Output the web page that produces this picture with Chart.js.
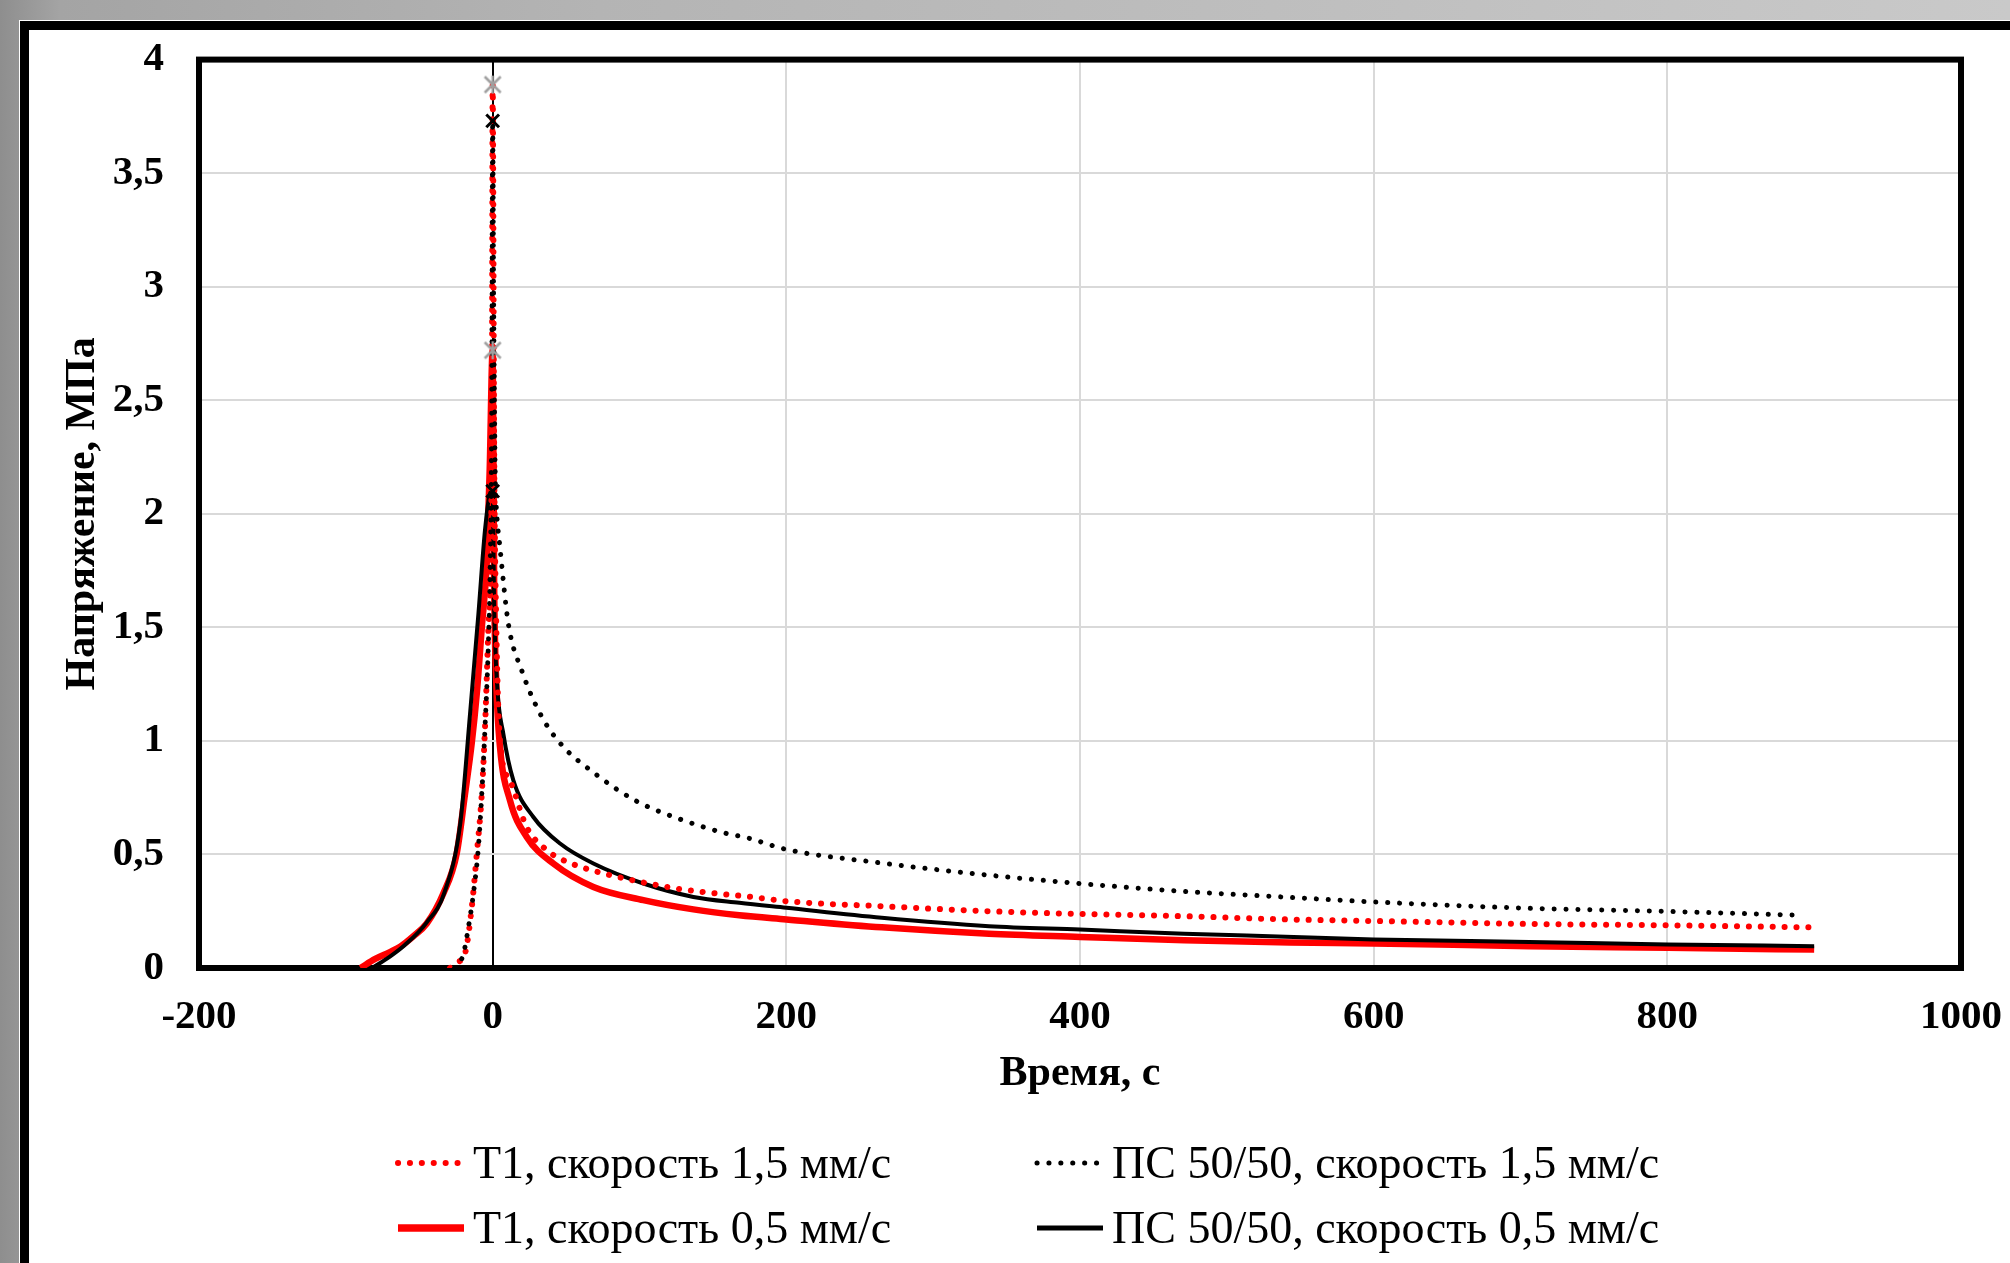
<!DOCTYPE html>
<html lang="ru">
<head>
    <meta charset="UTF-8">
    <title>Напряжение, МПа</title>
    <script src="https://cdn.jsdelivr.net/npm/chart.js"></script>
    <style>
        html, body { margin: 0; padding: 0; }
        body {
            width: 2010px; height: 1263px; overflow: hidden; position: relative;
            background: linear-gradient(to right, #8e8e8e 0px, #a4a4a4 60px, #b4b4b4 600px, #c9c9c9 2010px);
        }
        .frame {
            position: absolute; left: 20px; top: 21px; width: 2040px; height: 1300px;
            background: #fff; border: 9px solid #000;
            box-shadow: -1px -1px 0 #fff;
        }
        #chart { position: absolute; left: 0; top: 0; }
    </style>
</head>
<body>
    <div class="frame"></div>
    <canvas id="chart" width="2010" height="1263"></canvas>

    <script>
        // time, s / stress, MPa
        const t1FastTime   = [-29, -24, -18.8, -14.2, -10.8, -7.4, -5.2, -2.9, -1.3, -0.5, 0, 1, 2.5, 5, 11.8, 23.2, 36.8, 43.6, 60, 80, 100, 125, 150, 176, 200, 265, 338, 400, 471, 541, 600, 706, 800, 897];
        const t1FastStress = [0, 0.025, 0.064, 0.27, 0.504, 0.768, 1.06, 1.5, 1.79, 2.5, 3.89, 2.3, 1.5, 1.0, 0.826, 0.62, 0.519, 0.489, 0.445, 0.409, 0.38, 0.35, 0.33, 0.313, 0.294, 0.272, 0.25, 0.238, 0.228, 0.214, 0.207, 0.194, 0.188, 0.179];

        const t1SlowTime   = [-90, -80, -70, -63, -54, -44.9, -33.6, -24.5, -18.8, -14.2, -10.8, -7.4, -4, -2, 0, 1, 2.5, 5, 11.8, 23.2, 41.3, 68.6, 102.6, 136.7, 168, 200, 265, 338, 400, 471, 543, 600, 706, 800, 900];
        const t1SlowStress = [0, 0.04, 0.07, 0.094, 0.14, 0.196, 0.328, 0.504, 0.768, 0.993, 1.21, 1.5, 1.79, 2.2, 2.72, 1.7, 1.25, 0.973, 0.738, 0.577, 0.46, 0.357, 0.299, 0.258, 0.232, 0.214, 0.179, 0.151, 0.137, 0.122, 0.112, 0.108, 0.096, 0.089, 0.081];

        const psFastTime   = [-26, -20, -16.5, -13.1, -9.7, -7.4, -5.2, -2.9, -1.8, -0.6, 0, 0.6, 1.2, 1.8, 2.8, 5, 10.7, 19.8, 32.3, 45.9, 69.7, 97, 126.5, 159.4, 173, 200, 260, 333, 400, 469, 540, 600, 706, 800, 892];
        const psFastStress = [0, 0.06, 0.18, 0.328, 0.533, 0.768, 1.06, 1.43, 1.72, 2.5, 3.73, 3.0, 2.5, 2.15, 2.0, 1.85, 1.515, 1.31, 1.12, 0.99, 0.856, 0.738, 0.658, 0.592, 0.574, 0.522, 0.466, 0.412, 0.372, 0.338, 0.312, 0.291, 0.263, 0.249, 0.232];

        const psSlowTime   = [-82, -70, -60, -45, -33, -22, -15.4, -9.7, -5.2, -1.8, 0, 1, 3, 7.3, 14.1, 27.7, 45.9, 68.6, 102.6, 136.7, 168, 200, 265, 338, 400, 471, 540, 600, 706, 800, 900];
        const psSlowStress = [0, 0.05, 0.1, 0.2, 0.33, 0.64, 1.12, 1.56, 1.93, 2.09, 2.1, 1.6, 1.25, 1.03, 0.826, 0.665, 0.548, 0.46, 0.372, 0.313, 0.287, 0.265, 0.221, 0.184, 0.169, 0.151, 0.138, 0.126, 0.115, 0.104, 0.096];

        // peak markers at t = 0
        const peakTime     = [0, 0];
        const grayPeaks    = [3.89, 2.72];
        const blackPeaks   = [3.73, 2.1];

        const seriesLabels = [
            'T1, скорость 1,5 мм/с',
            'ПС 50/50, скорость 1,5 мм/с',
            'T1, скорость 0,5 мм/с',
            'ПС 50/50, скорость 0,5 мм/с'
        ];

        const xMin = -200, xMax = 1000, xStep = 200;
        const yMin = 0, yMax = 4, yStep = 0.5;

        const serif = '"Liberation Serif", "Times New Roman", serif';
        const DOT = [0.1, 11.8];

        function toPoints(xs, ys) {
            return xs.map((x, i) => ({ x: x, y: ys[i] }));
        }

        // gray asterisk marker like Excel's "*"
        function asteriskMarker(color, size) {
            const c = document.createElement('canvas');
            c.width = size; c.height = size;
            const g = c.getContext('2d');
            const m = size / 2, r = size / 2 - 2;
            g.strokeStyle = color; g.lineWidth = 2.5; g.lineCap = 'butt';
            g.beginPath();
            g.moveTo(m - r, m - r); g.lineTo(m + r, m + r);
            g.moveTo(m + r, m - r); g.lineTo(m - r, m + r);
            g.moveTo(m, m - r - 1); g.lineTo(m, m + r + 1);
            g.stroke();
            return c;
        }

        const plotFrame = {
            id: 'plotFrame',
            beforeDatasetsDraw(chart) {
                const a = chart.chartArea, ctx = chart.ctx;
                ctx.save();
                ctx.strokeStyle = '#000';
                ctx.lineWidth = 6;
                ctx.strokeRect(a.left, a.top, a.right - a.left, a.bottom - a.top);
                ctx.restore();
            }
        };

        // two-column legend, like the Excel one
        const legendGrid = {
            id: 'legendGrid',
            afterDraw(chart) {
                const ctx = chart.ctx;
                const cols = [398, 1037];
                const rows = [1163, 1228];
                chart.data.datasets.slice(0, 4).forEach((ds, i) => {
                    const x = cols[i % 2], y = rows[Math.floor(i / 2)];
                    ctx.save();
                    ctx.strokeStyle = ds.borderColor;
                    ctx.lineWidth = ds.borderWidth + (ds.borderDash ? 0 : 1);
                    ctx.lineCap = ds.borderDash ? 'round' : 'butt';
                    ctx.setLineDash(ds.borderDash || []);
                    ctx.beginPath();
                    ctx.moveTo(x, y);
                    ctx.lineTo(x + 66, y);
                    ctx.stroke();
                    ctx.setLineDash([]);
                    ctx.fillStyle = '#000';
                    ctx.font = '46px ' + serif;
                    ctx.textBaseline = 'middle';
                    ctx.fillText(ds.label, x + 75, y + 3);
                    ctx.restore();
                });
            }
        };

        const lineBase = {
            showLine: true,
            pointRadius: 0,
            fill: false,
            cubicInterpolationMode: 'monotone'
        };

        new Chart(document.getElementById('chart'), {
            type: 'scatter',
            data: {
                datasets: [
                    Object.assign({}, lineBase, {
                        label: seriesLabels[0],
                        data: toPoints(t1FastTime, t1FastStress),
                        borderColor: '#ff0000',
                        borderWidth: 6,
                        borderDash: DOT,
                        borderCapStyle: 'round',
                        order: 2
                    }),
                    Object.assign({}, lineBase, {
                        label: seriesLabels[1],
                        data: toPoints(psFastTime, psFastStress),
                        borderColor: '#000000',
                        borderWidth: 5,
                        borderDash: DOT,
                        borderCapStyle: 'round',
                        order: 1
                    }),
                    Object.assign({}, lineBase, {
                        label: seriesLabels[2],
                        data: toPoints(t1SlowTime, t1SlowStress),
                        borderColor: '#ff0000',
                        borderWidth: 6.5,
                        order: 4
                    }),
                    Object.assign({}, lineBase, {
                        label: seriesLabels[3],
                        data: toPoints(psSlowTime, psSlowStress),
                        borderColor: '#000000',
                        borderWidth: 4,
                        order: 3
                    }),
                    {
                        label: 'peaks gray',
                        data: toPoints(peakTime, grayPeaks),
                        showLine: false,
                        pointStyle: asteriskMarker('#a0a0a0', 20),
                        order: 0
                    },
                    {
                        label: 'peaks black',
                        data: toPoints(peakTime, blackPeaks),
                        showLine: false,
                        pointStyle: 'crossRot',
                        pointRadius: 9,
                        borderColor: '#000000',
                        borderWidth: 3,
                        order: 0
                    }
                ]
            },
            options: {
                responsive: false,
                animation: false,
                events: [],
                layout: { padding: { left: 58, right: 49, top: 58, bottom: 164 } },
                plugins: {
                    legend: { display: false },
                    tooltip: { enabled: false }
                },
                scales: {
                    x: {
                        type: 'linear',
                        min: xMin, max: xMax,
                        afterFit: s => { s.height = 131; s.paddingRight = 0; s.paddingLeft = 0; },
                        border: { display: false },
                        grid: {
                            drawTicks: false,
                            lineWidth: 2,
                            color: c => c.tick && c.tick.value === 0 ? '#000000' : '#d9d9d9'
                        },
                        ticks: {
                            stepSize: xStep,
                            padding: 25,
                            color: '#000',
                            font: { family: serif, size: 41, weight: 'bold' },
                            callback: v => String(v)
                        },
                        title: {
                            display: true,
                            text: 'Время, с',
                            color: '#000',
                            padding: 0,
                            font: { family: serif, size: 42, weight: 'bold' }
                        }
                    },
                    y: {
                        type: 'linear',
                        min: yMin, max: yMax,
                        afterFit: s => { s.width = 141; },
                        border: { display: false },
                        grid: { drawTicks: false, lineWidth: 2, color: '#d9d9d9' },
                        ticks: {
                            stepSize: yStep,
                            padding: 35,
                            color: '#000',
                            font: { family: serif, size: 41, weight: 'bold' },
                            callback: v => String(v).replace('.', ',')
                        },
                        title: {
                            display: true,
                            text: 'Напряжение, МПа',
                            color: '#000',
                            padding: 0,
                            font: { family: serif, size: 42, weight: 'bold' }
                        }
                    }
                }
            },
            plugins: [plotFrame, legendGrid]
        });
    </script>
</body>
</html>
